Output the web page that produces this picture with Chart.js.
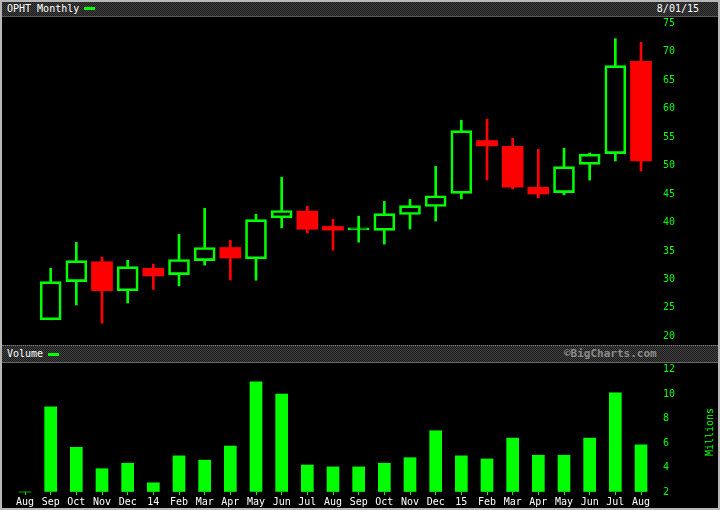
<!DOCTYPE html>
<html>
<head>
<meta charset="utf-8">
<script src="https://cdn.jsdelivr.net/npm/chart.js@4.4.0/dist/chart.umd.min.js"></script>
<style>
  body { margin: 0; background: #000; }
  #frame { position: absolute; left: 0; top: 0; width: 720px; height: 510px; box-sizing: border-box; border: 2px solid #b8b8b8; background: #000; }
  .hdr { position: absolute; left: 2px; width: 716px; background: repeating-conic-gradient(#404040 0 25%, #1c1c1c 0 50%) 0 0 / 2px 2px; }
  .txt { position: absolute; font: 10px "DejaVu Sans Mono", monospace; color: #fff; white-space: nowrap; line-height: 10px; }
  .dash { position: absolute; height: 3px; width: 11px; background: #00ff00; }
  .box { position: absolute; }
</style>
</head>
<body>
<div id="frame"></div>
<div class="hdr" style="top:2px;height:14px;border-bottom:1px solid #5a5a5a"></div>
<div class="hdr" style="top:345px;height:16px;border-top:1px dotted #777;border-bottom:1px solid #666"></div>

<div class="txt" style="left:7px;top:4px">OPHT Monthly</div>
<div class="dash" style="left:84px;top:7px"></div>
<div class="txt" style="right:21px;top:4px">8/01/15</div>

<div class="txt" style="left:7px;top:349px">Volume</div>
<div class="dash" style="left:48px;top:353px"></div>
<div class="txt" style="left:564px;top:349px;color:#8a8a8a;font-weight:bold;font-size:11px">&copy;BigCharts.com</div>
<div class="txt" style="left:710px;top:432px;color:#00ff00;transform:translate(-50%,-50%) rotate(-90deg)">Millions</div>

<div class="box" style="left:2px;top:2px;width:716px;height:353px"><canvas id="priceCanvas" width="716" height="353"></canvas></div>
<div class="box" style="left:2px;top:350px;width:716px;height:160px"><canvas id="volCanvas" width="716" height="160"></canvas></div>

<script>
// Aug 2013 .. Aug 2015, monthly
const months = ['Aug', 'Sep', 'Oct', 'Nov', 'Dec', '14', 'Feb', 'Mar', 'Apr', 'May', 'Jun', 'Jul',
  'Aug', 'Sep', 'Oct', 'Nov', 'Dec', '15', 'Feb', 'Mar', 'Apr', 'May', 'Jun', 'Jul', 'Aug'];

const opens  = [null, 22.9, 29.6, 33.1, 28.0, 31.95, 30.85, 33.3, 35.6, 33.6, 40.8, 42.0,
  39.3, 38.7, 38.6, 41.4, 42.8, 45.1, 54.4, 53.4, 46.2, 45.25, 50.2, 52.1, 68.3];
const highs  = [null, 31.95, 36.5, 33.9, 33.35, 32.7, 37.9, 42.5, 36.85, 41.45, 47.95, 42.85,
  40.55, 41.1, 43.7, 44.05, 49.85, 57.95, 58.15, 54.8, 52.85, 53.05, 52.2, 72.3, 71.65];
const lows   = [null, 22.9, 25.5, 22.3, 25.85, 28.25, 28.85, 32.5, 29.9, 29.85, 39.05, 38.15,
  35.15, 36.55, 36.2, 38.85, 40.25, 44.15, 47.45, 45.9, 44.3, 44.85, 47.45, 50.8, 49.05];
const closes = [null, 29.6, 33.3, 28.0, 32.25, 30.6, 33.5, 35.6, 33.75, 40.5, 42.1, 38.8,
  38.65, 38.8, 41.55, 42.95, 44.7, 56.15, 53.45, 46.2, 45.0, 49.8, 52.0, 67.55, 50.8];

// volume, millions
const volumes = [2.0, 8.95, 5.65, 3.9, 4.35, 2.75, 4.95, 4.6, 5.75, 11.0, 10.0, 4.2,
  4.05, 4.05, 4.35, 4.8, 7.0, 4.95, 4.7, 6.4, 5.0, 5.0, 6.4, 10.1, 5.85];

const priceTicks = [20, 25, 30, 35, 40, 45, 50, 55, 60, 65, 70, 75];
const volTicks = [2, 4, 6, 8, 10, 12];

const GREEN = '#00ff00';
const RED = '#ff0000';
const FONT = { family: 'DejaVu Sans Mono', size: 10 };

const isUp = (i) => closes[i] >= opens[i];
const candleColor = months.map((m, i) => (isUp(i) ? GREEN : RED));

// right hand axis: labels pushed out with an invisible tick, not with ticks.padding
// (ticks.padding also gets added to the top/bottom of the chart area)
const rightAxis = {
  position: 'right',
  grid: { display: true, drawOnChartArea: false, drawTicks: true, tickLength: 22, color: 'rgba(0,0,0,0)' },
  border: { display: false },
  ticks: { color: GREEN, font: FONT, padding: 0 },
  afterFit: (s) => { s.width = 77; },
};

initPrice();
initVolume();

function initPrice() {
  const ctx = document.getElementById('priceCanvas').getContext('2d');
  const wickLow = months.map((m, i) => (opens[i] == null ? null : [lows[i], Math.min(opens[i], closes[i])]));
  const wickHigh = months.map((m, i) => (opens[i] == null ? null : [Math.max(opens[i], closes[i]), highs[i]]));
  const body = months.map((m, i) => (opens[i] == null ? null : [opens[i], closes[i]]));

  window.priceChart = new Chart(ctx, {
    type: 'bar',
    data: {
      labels: months,
      datasets: [
        { data: wickLow, backgroundColor: candleColor, barThickness: 2, grouped: false, clip: false },
        { data: wickHigh, backgroundColor: candleColor, barThickness: 2, grouped: false, clip: false },
        {
          data: body,
          backgroundColor: months.map((m, i) => (isUp(i) ? 'rgba(0,0,0,0)' : RED)),
          borderColor: candleColor,
          borderWidth: months.map((m, i) => (isUp(i) ? 2 : 0)),
          borderSkipped: false,
          barThickness: 21,
          minBarLength: 2,
          grouped: false,
          clip: false,
        },
      ],
    },
    options: {
      responsive: false,
      animation: false,
      layout: { padding: { left: 23, right: 0, top: 16, bottom: 10 } },
      plugins: { legend: { display: false }, tooltip: { enabled: false } },
      scales: {
        x: { display: false, offset: false },
        y: {
          ...rightAxis,
          min: 18.47,
          max: 75.93,
          afterBuildTicks: (s) => { s.ticks = priceTicks.map((v) => ({ value: v })); },
        },
      },
    },
  });
}

function initVolume() {
  const ctx = document.getElementById('volCanvas').getContext('2d');
  window.volChart = new Chart(ctx, {
    type: 'bar',
    data: {
      labels: months,
      datasets: [
        { data: volumes, base: 2, backgroundColor: GREEN, barThickness: 12, clip: false },
      ],
    },
    options: {
      responsive: false,
      animation: false,
      layout: { padding: { left: 23, right: 0, top: 13, bottom: 0 } },
      plugins: { legend: { display: false }, tooltip: { enabled: false } },
      scales: {
        x: {
          offset: false,
          grid: { display: true, drawOnChartArea: false, drawTicks: true, tickLength: 3, color: GREEN, offset: false },
          border: { display: false },
          ticks: { color: '#ffffff', font: FONT, padding: 1, autoSkip: false, maxRotation: 0 },
          afterFit: (s) => { s.height = 18; },
        },
        y: {
          ...rightAxis,
          min: 2,
          max: 12.53,
          afterBuildTicks: (s) => { s.ticks = volTicks.map((v) => ({ value: v })); },
        },
      },
    },
  });
}
</script>
</body>
</html>
